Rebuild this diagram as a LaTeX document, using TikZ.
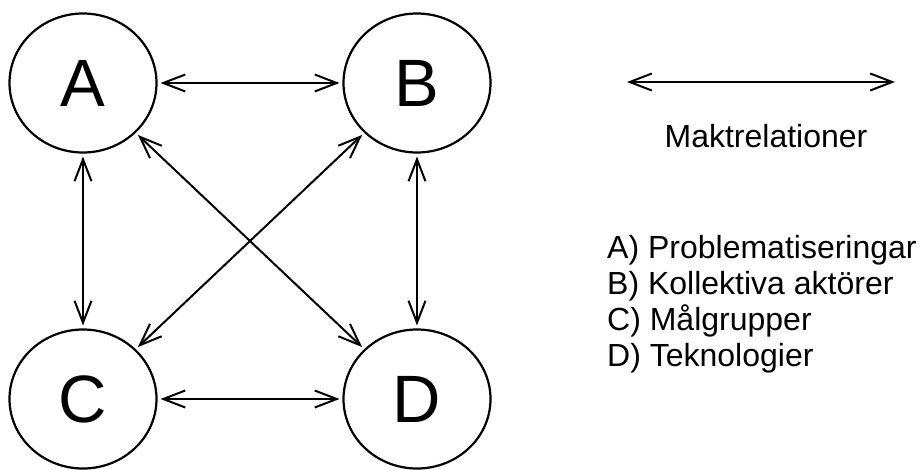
\documentclass[tikz,border=0pt]{standalone}
\usepackage{fontspec}
\setmainfont{Liberation Sans}
\usetikzlibrary{shapes.geometric,arrows.meta}
\tikzset{
  actor/.style={ellipse,draw,line width=2.2pt,minimum width=147pt,minimum height=139pt,inner sep=0pt,outer sep=0pt,font=\fontsize{67}{67}\selectfont},
  rel/.style={line width=2pt,{Straight Barb[length=22pt,width=17pt,line width=2pt]}-{Straight Barb[length=22pt,width=17pt,line width=2pt]},shorten <=4pt,shorten >=4pt},
  legtext/.style={font=\fontsize{32}{36}\selectfont,inner sep=0pt,anchor=base west}
}
\begin{document}
\begin{tikzpicture}[x=1pt,y=-1pt]
\useasboundingbox (0,0) rectangle (923,469);
\node[actor] (A) at (83,83) {A};
\node[actor] (B) at (417,83) {B};
\node[actor] (C) at (83,399) {C};
\node[actor] (D) at (417,399) {D};
\draw[rel] (A) -- (B);
\draw[rel] (C) -- (D);
\draw[rel] (A) -- (C);
\draw[rel] (B) -- (D);
\draw[rel] (A) -- (D);
\draw[rel] (B) -- (C);
\coordinate (L1) at (627,82);
\coordinate (L2) at (895,82);
\draw[rel,shorten <=0pt,shorten >=0pt] (L1) -- (L2);
\node[font=\fontsize{32}{36}\selectfont,inner sep=0pt,anchor=base] (mak) at (766,147) {Maktrelationer};
\node[legtext] (la) at (607,258) {A) Problematiseringar};
\node[legtext] (lb) at (607,294) {B) Kollektiva aktörer};
\node[legtext] (lc) at (607,330) {C) Målgrupper};
\node[legtext] (ld) at (607,366) {D) Teknologier};
\end{tikzpicture}
\end{document}
